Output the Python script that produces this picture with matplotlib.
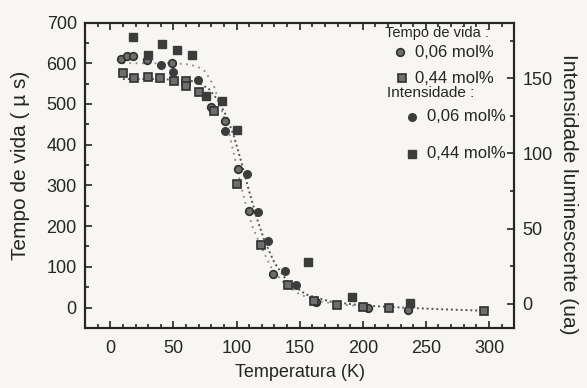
import numpy as np
import matplotlib.pyplot as plt
from matplotlib.ticker import MultipleLocator

plt.rcParams['font.family'] = ['Liberation Sans', 'DejaVu Sans']

# ---------------- data ----------------
# lifetime (left axis, us)
life006_T = [8.1, 12.9, 18.2, 28.8, 49.2, 80.1, 90.7, 101.0, 109.8, 129.2, 163.0, 204.0, 235.5]
life006_tau = [610, 618, 618, 608, 600, 493, 459, 341, 238, 83, 14, 0, -7]

life044_T = [9.7, 19.0, 29.6, 39.4, 50.8, 60.2, 60.2, 70.0, 81.9, 100.6, 119.1, 140.4,
             161.6, 179.4, 200.0, 221.0, 295.8]
life044_tau = [576, 564, 565, 564, 557, 557, 545, 529, 482, 304, 154, 55, 17, 7, 2, -1, -9]

# intensity (right axis, a.u.)
int006_T = [40.0, 50.0, 69.5, 90.7, 108.5, 117.3, 125.0, 138.5, 147.0]
int006_I = [158.6, 154.0, 148.6, 114.8, 86.3, 60.8, 42.0, 21.9, 12.6]

int044_T = [18.2, 30.1, 41.3, 53.2, 64.7, 76.1, 88.6, 100.0, 156.3, 191.6, 237.3]
int044_I = [177.4, 165.7, 173.0, 169.0, 165.2, 138.0, 134.9, 115.5, 27.7, 4.8, 0.5]

# dotted fit curves (left axis units)
fit_a_T = [10, 30, 50, 63, 70, 75, 82, 88, 94, 98, 103, 108, 113, 120, 128, 138, 150, 165, 180, 200]
fit_a_tau = [600, 600, 600, 597, 590, 580, 545, 485, 430, 375, 305, 245, 195, 145, 95, 58, 32, 16, 8, 3]

fit_b_T = [10, 30, 50, 62, 70, 78, 85, 92, 98, 104, 110, 116, 122, 130, 140, 155, 175, 200,
           230, 260, 296]
fit_b_tau = [561, 561, 560, 558, 552, 537, 510, 470, 420, 355, 285, 220, 165, 110, 65, 32,
             14, 5, 0, -4, -8]

ink = '#252525'
paper = '#f7f6f3'

fig = plt.figure(figsize=(5.87, 3.88), dpi=100, facecolor=paper)
ax = fig.add_axes([0.145, 0.155, 0.731, 0.787])
ax.set_facecolor(paper)
ax2 = ax.twinx()

# fits
ax.plot(fit_a_T, fit_a_tau, linestyle=(0, (1, 2.5)), color='#8a8a8a', lw=1.3, zorder=1)
ax.plot(fit_b_T, fit_b_tau, linestyle=(0, (1, 1.5)), color='#555555', lw=1.4, zorder=1)

# markers
life_kw = dict(linestyle='none', markersize=5.5, markerfacecolor='#6e6e6e',
               markeredgecolor='#303030', markeredgewidth=1.2)
int_kw = dict(linestyle='none', markersize=5.5, markerfacecolor='#3c3c3c',
              markeredgecolor='#3c3c3c', markeredgewidth=1.0)
ax.plot(life006_T, life006_tau, marker='o', **life_kw)
ax.plot(life044_T, life044_tau, marker='s', **life_kw)
ax2.plot(int006_T, int006_I, marker='o', **int_kw)
ax2.plot(int044_T, int044_I, marker='s', **int_kw)

# axes ranges / ticks
ax.set_xlim(-20, 320)
ax.set_ylim(-50, 700)
ax2.set_ylim(-16, 187)

ax.xaxis.set_major_locator(MultipleLocator(50))
ax.xaxis.set_minor_locator(MultipleLocator(10))
ax.yaxis.set_major_locator(MultipleLocator(100))
ax.yaxis.set_minor_locator(MultipleLocator(50))
ax2.yaxis.set_major_locator(MultipleLocator(50))
ax2.yaxis.set_minor_locator(MultipleLocator(25))

ax.tick_params(axis='both', which='both', direction='in', top=True, right=False,
               colors=ink, labelsize=13, width=1.2)
ax.tick_params(which='major', length=5)
ax.tick_params(which='minor', length=3)
ax2.tick_params(axis='y', which='both', direction='in', colors=ink, labelsize=13, width=1.2)
ax2.tick_params(which='major', length=5)
ax2.tick_params(which='minor', length=3)
ax.tick_params(axis='x', pad=9)
ax.tick_params(axis='y', pad=6)
ax2.tick_params(axis='y', pad=6)

for a in (ax, ax2):
    for s in a.spines.values():
        s.set_color(ink)
        s.set_linewidth(1.5)

ax.set_xlabel('Temperatura (K)', fontsize=13, color=ink, labelpad=5)
ax.set_ylabel('Tempo de vida ( \u00b5 s)', fontsize=15, color=ink, labelpad=11.5)
ax.yaxis.label.set_y(0.531)
ax2.set_ylabel('Intensidade luminescente (ua)', fontsize=15, color=ink,
               rotation=270, labelpad=18.5)
ax2.yaxis.label.set_y(0.436)

# hand-made legend
lt = ax.transAxes
ax.text(0.699, 0.965, 'Tempo de vida :', transform=lt, fontsize=10.5, color=ink, va='center')
ax.plot([0.734], [0.902], marker='o', transform=lt, clip_on=False, **life_kw)
ax.text(0.769, 0.902, '0,06 mol%', transform=lt, fontsize=12, color=ink, va='center')
ax.plot([0.738], [0.818], marker='s', transform=lt, clip_on=False, **life_kw)
ax.text(0.769, 0.818, '0,44 mol%', transform=lt, fontsize=12, color=ink, va='center')
ax.text(0.703, 0.769, 'Intensidade :', transform=lt, fontsize=11, color=ink, va='center')
ax.plot([0.762], [0.692], marker='o', transform=lt, clip_on=False, **int_kw)
ax.text(0.796, 0.692, '0,06 mol%', transform=lt, fontsize=12, color=ink, va='center')
ax.plot([0.762], [0.570], marker='s', transform=lt, clip_on=False, **int_kw)
ax.text(0.796, 0.570, '0,44 mol%', transform=lt, fontsize=12, color=ink, va='center')

fig.savefig('out.png', dpi=100, facecolor=paper)
